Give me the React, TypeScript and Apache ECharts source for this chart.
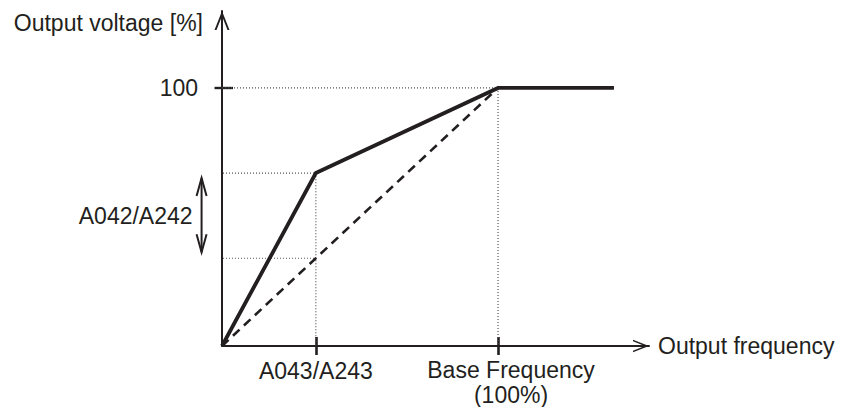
import React, { useEffect, useRef } from "react";
import * as echarts from "echarts";

// V/f curve with manual torque boost
const vfFreq = [0, 34, 100, 142];
const vfVolt = [0, 67, 100, 100];
// Linear reference (no boost)
const linearFreq = [0, 100];
const linearVolt = [0, 100];
// Axis ticks
const xTickValues = [34, 100];
const xTickLabels = ["A043/A243", "Base Frequency\n(100%)"];
const yTickValues = [100];
const yTickLabels = ["100"];
// Annotation
const boostLabel = ["A042/A242"];
const axisNames = ["Output frequency", "Output voltage [%]"];

const X_MAX = 154.7;
const Y_MAX = 129.8;
const GUIDE_START_X = -10.5;
const ARROW_X = -7.4;

const INK = "#231f20";
const FONT = "'Liberation Sans', Arial, sans-serif";

const AXIS_ARROW = "path://M7.5,0 L15,19 L13,19 L7.5,5.07 L2,19 L0,19 Z";

export default function App() {
  const ref = useRef<HTMLDivElement>(null);

  useEffect(() => {
    if (!ref.current) return;
    const chart = echarts.init(ref.current, null, { renderer: "svg" });

    const zip = (xs: number[], ys: number[]) => xs.map((x, i) => [x, ys[i]]);
    const boostF = vfFreq[1];
    const boostV = vfVolt[1];
    const baseF = xTickValues[1];
    const baseV = yTickValues[0];
    const linV = linearVolt[1] * (boostF / linearFreq[1]);

    const dotted = {
      type: "line",
      showSymbol: false,
      symbol: "none",
      clip: false,
      z: 1,
      silent: true,
      lineStyle: { color: "#555", width: 1.2, type: [1, 2] },
    };

    const textStyle = { color: INK, fontFamily: FONT, fontSize: 23 };

    chart.setOption({
      animation: false,
      grid: { left: 222, right: 194, top: 11, bottom: 61 },
      xAxis: [
        {
          type: "value",
          min: 0,
          max: X_MAX,
          position: "bottom",
          name: axisNames[0],
          nameLocation: "end",
          nameGap: 9,
          nameTextStyle: {
            ...textStyle,
            align: "left",
            verticalAlign: "middle",
            padding: [0, 0, 12, 0],
          },
          axisLine: {
            show: true,
            onZero: false,
            symbol: ["none", AXIS_ARROW],
            symbolSize: [13.5, 16],
            symbolOffset: [0, -8],
            lineStyle: { color: INK, width: 2 },
          },
          axisTick: {
            show: true,
            inside: false,
            length: 9,
            customValues: xTickValues,
            lineStyle: { color: INK, width: 2.6 },
          },
          axisLabel: {
            show: true,
            customValues: xTickValues,
            margin: 11,
            ...textStyle,
            formatter: (v: number) => {
              const i = xTickValues.indexOf(v);
              if (i === 0) return `{a|${xTickLabels[0]}}`;
              if (i === 1)
                return xTickLabels[1]
                  .split("\n")
                  .map((s) => `{b|${s}}`)
                  .join("\n");
              return "";
            },
            rich: {
              a: { ...textStyle, lineHeight: 25, padding: [3, 0, 0, 0] },
              b: { ...textStyle, lineHeight: 25, padding: [0, 0, 0, 26] },
            },
          },
          splitLine: { show: false },
        },
        {
          type: "value",
          min: 0,
          max: X_MAX,
          position: "bottom",
          axisLine: { show: false },
          axisTick: {
            show: true,
            inside: true,
            length: 9,
            customValues: xTickValues,
            lineStyle: { color: INK, width: 2.6 },
          },
          axisLabel: { show: false },
          splitLine: { show: false },
        },
      ],
      yAxis: [
        {
          type: "value",
          min: 0,
          max: Y_MAX,
          position: "left",
          name: axisNames[1],
          nameLocation: "end",
          nameGap: -12,
          nameTextStyle: {
            ...textStyle,
            align: "right",
            verticalAlign: "middle",
            padding: [0, 19, 0, 0],
          },
          axisLine: {
            show: true,
            onZero: false,
            symbol: ["none", AXIS_ARROW],
            symbolSize: [15, 19],
            symbolOffset: [0, -9.5],
            lineStyle: { color: INK, width: 2 },
          },
          axisTick: {
            show: true,
            inside: false,
            length: 7.5,
            customValues: yTickValues,
            lineStyle: { color: INK, width: 2.4 },
          },
          axisLabel: {
            show: true,
            customValues: yTickValues,
            margin: 24,
            ...textStyle,
            formatter: (v: number) => {
              const i = yTickValues.indexOf(v);
              return i >= 0 ? yTickLabels[i] : "";
            },
          },
          splitLine: { show: false },
        },
        {
          type: "value",
          min: 0,
          max: Y_MAX,
          position: "left",
          axisLine: { show: false },
          axisTick: {
            show: true,
            inside: true,
            length: 11,
            customValues: yTickValues,
            lineStyle: { color: INK, width: 2.4 },
          },
          axisLabel: { show: false },
          splitLine: { show: false },
        },
      ],
      series: [
        {
          ...dotted,
          data: [
            [0, baseV],
            [baseF, baseV],
            [baseF, 0],
          ],
        },
        {
          ...dotted,
          data: [
            [GUIDE_START_X, boostV],
            [boostF, boostV],
            [boostF, 0],
          ],
        },
        {
          ...dotted,
          data: [
            [GUIDE_START_X, linV],
            [boostF, linV],
          ],
        },
        {
          type: "custom",
          silent: true,
          clip: false,
          z: 3,
          encode: { x: 0, y: [1, 2] },
          data: [[ARROW_X, linV, boostV]],
          renderItem: (params: any, api: any) => {
            const x = api.value(0);
            const lo = api.coord([x, api.value(1)]);
            const hi = api.coord([x, api.value(2)]);
            const px = lo[0];
            const tipTop = hi[1] + 5;
            const tipBot = lo[1] - 6;
            const w = 5;
            const h = 18;
            const stroke = { stroke: INK, lineWidth: 2, fill: "none" };
            return {
              type: "group",
              children: [
                {
                  type: "line",
                  shape: { x1: px, y1: tipTop, x2: px, y2: tipBot },
                  style: stroke,
                },
                {
                  type: "polyline",
                  shape: {
                    points: [
                      [px - w, tipTop + h],
                      [px, tipTop],
                      [px + w, tipTop + h],
                    ],
                  },
                  style: stroke,
                },
                {
                  type: "polyline",
                  shape: {
                    points: [
                      [px - w, tipBot - h],
                      [px, tipBot],
                      [px + w, tipBot - h],
                    ],
                  },
                  style: stroke,
                },
                {
                  type: "text",
                  x: px - 9,
                  y: (lo[1] + hi[1]) / 2,
                  style: {
                    text: boostLabel[0],
                    fill: INK,
                    font: `23px ${FONT}`,
                    align: "right",
                    verticalAlign: "middle",
                  },
                },
              ],
            };
          },
        },
        {
          type: "line",
          z: 4,
          silent: true,
          symbol: "none",
          showSymbol: false,
          lineStyle: { color: INK, width: 2.6, type: [9, 6] },
          data: zip(linearFreq, linearVolt),
        },
        {
          type: "line",
          z: 5,
          silent: true,
          symbol: "none",
          showSymbol: false,
          lineStyle: { color: INK, width: 3.8, join: "miter" },
          data: zip(vfFreq, vfVolt),
        },
      ],
    });

    return () => chart.dispose();
  }, []);

  return (
    <div
      ref={ref}
      style={{ position: "fixed", left: 0, top: 0, width: 843, height: 407, background: "#fff" }}
    />
  );
}
